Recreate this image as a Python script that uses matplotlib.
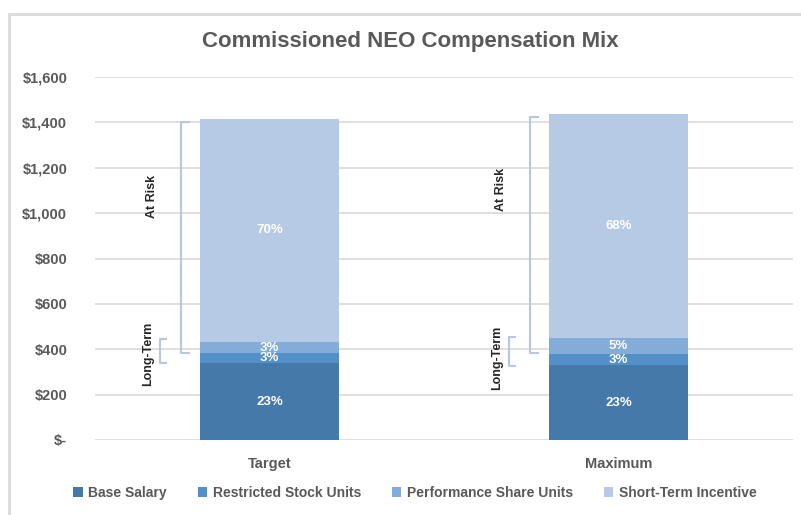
import matplotlib.pyplot as plt
from matplotlib.patches import Rectangle
from matplotlib.ticker import FuncFormatter

# data (in $ thousands)
categories = ['Target', 'Maximum']
series = ['Base Salary', 'Restricted Stock Units', 'Performance Share Units', 'Short-Term Incentive']
base_salary = [339, 330]
rsu = [44, 49]
psu = [49, 71]
sti = [983, 987]
pct_labels = [['23%', '3%', '3%', '70%'],
              ['23%', '3%', '5%', '68%']]
# bracket spans (low, high) per category
at_risk_span = [(383, 1400), (383, 1425)]
long_term_span = [(339, 444), (326, 455)]

colors = ['#4479aa', '#5490c8', '#83acd9', '#b7cae5']
text_col = '#595959'
bracket_col = '#b4c7e7'

plt.rcParams['font.family'] = ['Liberation Sans', 'DejaVu Sans']
plt.rcParams['font.weight'] = 'bold'

fig = plt.figure(figsize=(8.01, 5.15), dpi=100, facecolor='white')
ax = fig.add_axes([95 / 801, 1 - 440 / 515, 698 / 801, 363 / 515])

x = list(range(len(categories)))
values = [base_salary, rsu, psu, sti]
bottoms = [0] * len(categories)
for name, vals, col in zip(series, values, colors):
    ax.bar(x, vals, width=0.4, bottom=bottoms, color=col, label=name, zorder=3)
    bottoms = [b + v for b, v in zip(bottoms, vals)]

# percent labels centred in segments
for i in x:
    b = 0
    for j, vals in enumerate(values):
        ax.text(i, b + vals[i] / 2, pct_labels[i][j], ha='center', va='center',
                color='white', fontsize=9.5, fontweight='bold', zorder=4)
        b += vals[i]

# brackets
def bracket(xc, lo, hi, arm):
    ax.plot([xc + arm, xc, xc, xc + arm], [lo, lo, hi, hi], color=bracket_col, lw=1.5,
            zorder=4, clip_on=False, solid_capstyle='butt')

for i in x:
    bracket(i - 0.254, at_risk_span[i][0], at_risk_span[i][1], 0.025)
    bracket(i - 0.315, long_term_span[i][0], long_term_span[i][1], 0.022)
    ax.text(i - 0.337, 1075 + 30 * i, 'At Risk', rotation=90, ha='center', va='center',
            color='#262626', fontsize=9, fontweight='bold')
    ax.text(i - 0.347, 378 - 15 * i, 'Long-Term', rotation=90, ha='center', va='center',
            color='#262626', fontsize=9, fontweight='bold')

ax.set_xlim(-0.5, 1.5)
ax.set_ylim(0, 1600)
ax.set_yticks(range(0, 1601, 200))
ax.yaxis.set_major_formatter(FuncFormatter(lambda v, p: '$-' if v == 0 else '${:,.0f}'.format(v)))
ax.set_xticks(x)
ax.set_xticklabels(categories)
ax.grid(axis='y', color='#d9d9d9', lw=1.2, zorder=0)
for s in ax.spines.values():
    s.set_visible(False)
ax.tick_params(axis='both', length=0, labelsize=10.5, colors=text_col)
ax.tick_params(axis='y', pad=20)
ax.tick_params(axis='x', pad=12)
for lab in ax.get_xticklabels() + ax.get_yticklabels():
    lab.set_fontweight('bold')

fig.text(0.512, 1 - 42 / 515, 'Commissioned NEO Compensation Mix', ha='center', va='center',
         fontsize=16, fontweight='bold', color=text_col)

leg = fig.legend(loc='center', bbox_to_anchor=(0.518, 1 - 493 / 515), ncol=4, frameon=False,
                 handlelength=0.7, handleheight=0.7, handletextpad=0.4, columnspacing=2.2,
                 prop={'weight': 'bold', 'size': 10})
for t in leg.get_texts():
    t.set_color(text_col)

# chart frame
fig.patches.append(Rectangle((8.5 / 801, -0.1), 1.2, 1 - 13.5 / 515 + 0.1, transform=fig.transFigure,
                             fill=False, edgecolor='#d9d9d9', lw=2))

fig.savefig('out.png', dpi=100)
